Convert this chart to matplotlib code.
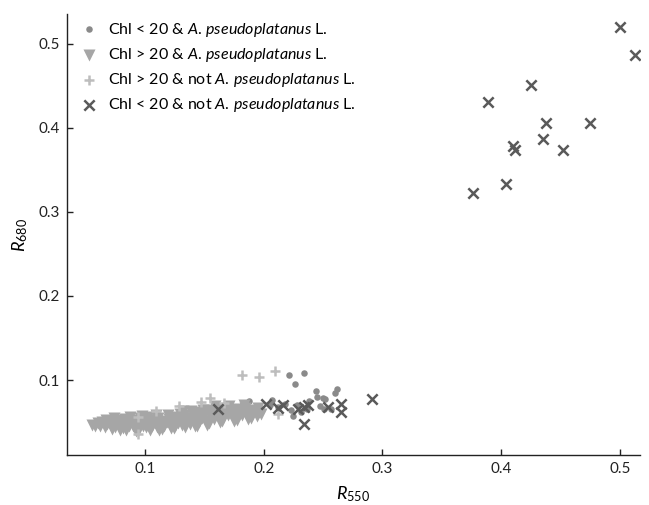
import matplotlib
matplotlib.use('Agg')
import matplotlib.pyplot as plt

# Chl < 20 & A. pseudoplatanus
circ_x = [0.2216, 0.2335, 0.226, 0.244, 0.245, 0.250, 0.252, 0.260, 0.262, 0.247, 0.251,
          0.2385, 0.223, 0.2245, 0.1876, 0.2068, 0.2315, 0.2567, 0.178, 0.185, 0.195,
          0.205, 0.212, 0.218, 0.228, 0.236]
circ_y = [0.106, 0.109, 0.095, 0.087, 0.080, 0.079, 0.077, 0.085, 0.089, 0.069, 0.066,
          0.075, 0.065, 0.057, 0.075, 0.0765, 0.062, 0.0655, 0.063, 0.068, 0.065,
          0.070, 0.068, 0.072, 0.070, 0.066]

# Chl > 20 & A. pseudoplatanus
tri_x = [0.055, 0.058, 0.060, 0.062, 0.064, 0.066, 0.068, 0.070, 0.071, 0.073, 0.075, 0.076,
         0.078, 0.080, 0.081, 0.083, 0.085, 0.086, 0.088, 0.090, 0.091, 0.093, 0.095, 0.096,
         0.098, 0.100, 0.101, 0.103, 0.105, 0.106, 0.108, 0.110, 0.111, 0.113, 0.115, 0.116,
         0.118, 0.120, 0.121, 0.123, 0.125, 0.126, 0.128, 0.130, 0.131, 0.133, 0.135, 0.136,
         0.138, 0.140, 0.141, 0.143, 0.145, 0.146, 0.148, 0.150, 0.151, 0.153, 0.155, 0.157,
         0.158, 0.160, 0.162, 0.164, 0.166, 0.168, 0.170, 0.172, 0.174, 0.176, 0.178, 0.180,
         0.182, 0.184, 0.186, 0.188, 0.190, 0.192, 0.194, 0.196, 0.198,
         0.067, 0.074, 0.079, 0.087, 0.092, 0.097, 0.104, 0.109, 0.114, 0.119, 0.124, 0.129,
         0.134, 0.139, 0.144, 0.149, 0.154, 0.159, 0.165, 0.171, 0.177, 0.183, 0.189, 0.195,
         0.072, 0.084, 0.094, 0.102, 0.112, 0.122, 0.132, 0.142, 0.152, 0.163, 0.175, 0.187]
tri_y = [0.047, 0.045, 0.049, 0.046, 0.050, 0.044, 0.048, 0.052, 0.046, 0.049, 0.044, 0.053,
         0.047, 0.050, 0.043, 0.054, 0.048, 0.045, 0.051, 0.046, 0.053, 0.043, 0.049, 0.055,
         0.046, 0.051, 0.044, 0.048, 0.053, 0.046, 0.050, 0.044, 0.055, 0.048, 0.052, 0.045,
         0.050, 0.054, 0.047, 0.051, 0.046, 0.056, 0.049, 0.053, 0.047, 0.058, 0.051, 0.055,
         0.048, 0.060, 0.053, 0.057, 0.050, 0.062, 0.055, 0.059, 0.052, 0.064, 0.057, 0.061,
         0.054, 0.066, 0.058, 0.062, 0.055, 0.065, 0.059, 0.063, 0.056, 0.066, 0.060, 0.064,
         0.058, 0.067, 0.061, 0.065, 0.059, 0.063, 0.057, 0.062, 0.060,
         0.053, 0.055, 0.041, 0.056, 0.040, 0.057, 0.041, 0.058, 0.042, 0.059, 0.043, 0.060,
         0.044, 0.063, 0.046, 0.065, 0.049, 0.069, 0.051, 0.069, 0.053, 0.070, 0.055, 0.067,
         0.042, 0.041, 0.039, 0.056, 0.041, 0.043, 0.063, 0.045, 0.047, 0.050, 0.052, 0.054]

# Chl > 20 & not A. pseudoplatanus
plus_x = [0.182, 0.196, 0.2098, 0.155, 0.109, 0.0936, 0.1287, 0.0936, 0.2118, 0.147, 0.1665]
plus_y = [0.106, 0.104, 0.111, 0.079, 0.0635, 0.0357, 0.0694, 0.056, 0.0595, 0.074, 0.0726]

# Chl < 20 & not A. pseudoplatanus
cross_x = [0.500, 0.513, 0.425, 0.389, 0.438, 0.475, 0.435, 0.410, 0.412, 0.452, 0.404, 0.376,
           0.161, 0.202, 0.212, 0.216, 0.229, 0.234, 0.237, 0.234, 0.254, 0.265, 0.265, 0.291]
cross_y = [0.520, 0.487, 0.451, 0.431, 0.406, 0.406, 0.387, 0.378, 0.373, 0.374, 0.333, 0.323,
           0.0655, 0.0714, 0.0667, 0.0706, 0.0655, 0.068, 0.070, 0.0476, 0.068, 0.0714, 0.062, 0.077]

plt.rcParams['font.family'] = ['Lato', 'DejaVu Sans']
plt.rcParams['mathtext.fontset'] = 'custom'
plt.rcParams['mathtext.rm'] = 'Lato'
plt.rcParams['mathtext.it'] = 'Lato:italic'

species = '$\\mathit{A.}\\,\\mathit{pseudoplatanus}$ L.'

fig = plt.figure(figsize=(6.49, 5.05), dpi=100)
ax = fig.add_axes([0.103, 0.099, 0.883, 0.873])

ax.scatter(circ_x, circ_y, marker='o', s=22, color='#8a8a8a', linewidths=0,
           label='Chl < 20 & ' + species)
ax.scatter(tri_x, tri_y, marker='v', s=75, color='#a6a6a6', linewidths=0,
           label='Chl > 20 & ' + species)
ax.scatter(plus_x, plus_y, marker='+', s=60, color='#bdbdbd', linewidths=1.8,
           label='Chl > 20 & not ' + species)
ax.scatter(cross_x, cross_y, marker='x', s=55, color='#5a5a5a', linewidths=1.8,
           label='Chl < 20 & not ' + species)

ax.set_xlim(0.034, 0.517)
ax.set_ylim(0.011, 0.535)
ax.set_xticks([0.1, 0.2, 0.3, 0.4, 0.5])
ax.set_yticks([0.1, 0.2, 0.3, 0.4, 0.5])
ax.set_xticklabels(['0.1', '0.2', '0.3', '0.4', '0.5'])
ax.set_yticklabels(['0.1', '0.2', '0.3', '0.4', '0.5'])
ax.tick_params(direction='in', length=4, width=1, labelsize=11, colors='#222222', pad=5)
for sp in ['top', 'right']:
    ax.spines[sp].set_visible(False)
for sp in ['left', 'bottom']:
    ax.spines[sp].set_linewidth(1)
    ax.spines[sp].set_color('#222222')

ax.set_xlabel('$R_{550}$', fontsize=13, labelpad=6)
ax.set_ylabel('$R_{680}$', fontsize=13, labelpad=6)

ax.legend(loc='upper left', frameon=False, fontsize=11.5, handletextpad=0.2,
          borderaxespad=0.0, labelspacing=0.45, scatterpoints=1,
          bbox_to_anchor=(0.0, 1.0))

fig.savefig('out.png', dpi=100)
